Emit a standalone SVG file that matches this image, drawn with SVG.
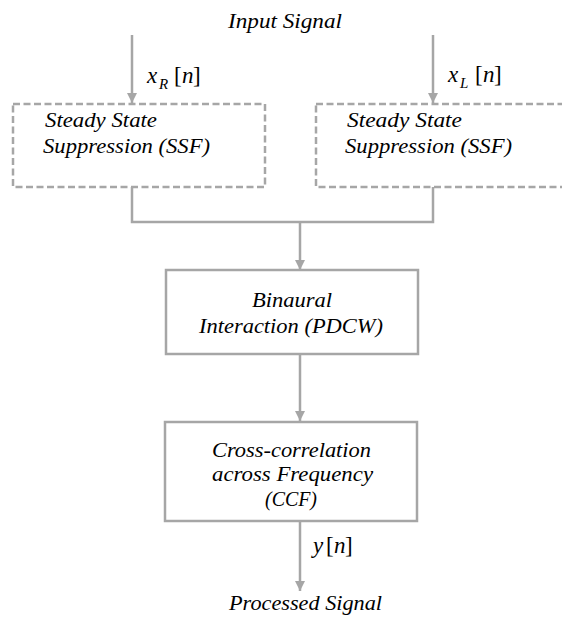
<svg xmlns="http://www.w3.org/2000/svg" width="562" height="623" viewBox="0 0 562 623">
<style>
.t{font-family:"Liberation Serif","Times New Roman",serif;font-style:italic;font-size:20px;fill:#000}
.m{font-family:"Liberation Serif","Times New Roman",serif;font-size:23px;fill:#000}
.box{fill:#fff;stroke:#a6a6a6;stroke-width:2.5}
.dash{stroke-dasharray:7 3.5}
.ln{fill:none;stroke:#a6a6a6;stroke-width:2.5}
</style>
<defs>
<marker id="ah" viewBox="0 0 10 10" refX="10" refY="5" markerWidth="4" markerHeight="4" orient="auto" markerUnits="strokeWidth">
<path d="M0,0 L10,5 L0,10 z" fill="#a6a6a6"/>
</marker>
</defs>
<rect width="562" height="623" fill="#fff"/>
<g id="connectors">
<line class="ln" x1="132" y1="35" x2="132" y2="103" marker-end="url(#ah)"/>
<line class="ln" x1="433" y1="35" x2="433" y2="103" marker-end="url(#ah)"/>
<polyline class="ln" points="132,187 132,222 433,222 433,187"/>
<line class="ln" x1="300" y1="222" x2="300" y2="270" marker-end="url(#ah)"/>
<line class="ln" x1="300" y1="354" x2="300" y2="421" marker-end="url(#ah)"/>
<line class="ln" x1="300" y1="521" x2="300" y2="591" marker-end="url(#ah)"/>
</g>
<g id="input">
<text class="t" x="228" y="28" textLength="114" lengthAdjust="spacingAndGlyphs">Input Signal</text>
</g>
<g id="xr-label">
<text class="m"><tspan x="147" y="83" font-style="italic">x</tspan><tspan x="159" y="89" font-size="15" font-style="italic">R</tspan><tspan x="174" y="83">[</tspan><tspan x="182" y="83" font-style="italic">n</tspan><tspan x="193" y="83">]</tspan></text>
</g>
<g id="xl-label">
<text class="m"><tspan x="448" y="82" font-style="italic">x</tspan><tspan x="460" y="88" font-size="15" font-style="italic">L</tspan><tspan x="475" y="82">[</tspan><tspan x="483" y="82" font-style="italic">n</tspan><tspan x="494" y="82">]</tspan></text>
</g>
<g id="ssf-left">
<rect class="box dash" x="13" y="104" width="252" height="83"/>
<text class="t" x="45" y="127" textLength="112" lengthAdjust="spacingAndGlyphs">Steady State</text>
<text class="t" x="43" y="153" textLength="167" lengthAdjust="spacingAndGlyphs">Suppression (SSF)</text>
</g>
<g id="ssf-right">
<rect class="box dash" x="316" y="104" width="252" height="83"/>
<text class="t" x="347" y="127" textLength="115" lengthAdjust="spacingAndGlyphs">Steady State</text>
<text class="t" x="345" y="153" textLength="167" lengthAdjust="spacingAndGlyphs">Suppression (SSF)</text>
</g>
<g id="pdcw">
<rect class="box" x="166" y="270" width="252" height="84"/>
<text class="t" x="252" y="307" textLength="80" lengthAdjust="spacingAndGlyphs">Binaural</text>
<text class="t" x="199" y="333" textLength="184" lengthAdjust="spacingAndGlyphs">Interaction (PDCW)</text>
</g>
<g id="ccf">
<rect class="box" x="165" y="422" width="252" height="99"/>
<text class="t" x="212" y="457" textLength="159" lengthAdjust="spacingAndGlyphs">Cross-correlation</text>
<text class="t" x="212" y="481" textLength="161" lengthAdjust="spacingAndGlyphs">across Frequency</text>
<text class="t" x="265" y="506" textLength="52" lengthAdjust="spacingAndGlyphs">(CCF)</text>
</g>
<g id="y-label">
<text class="m"><tspan x="313" y="553" font-style="italic">y</tspan><tspan x="326" y="553">[</tspan><tspan x="334" y="553" font-style="italic">n</tspan><tspan x="345" y="553">]</tspan></text>
</g>
<g id="output">
<text class="t" x="229" y="610" textLength="153" lengthAdjust="spacingAndGlyphs">Processed Signal</text>
</g>
</svg>
